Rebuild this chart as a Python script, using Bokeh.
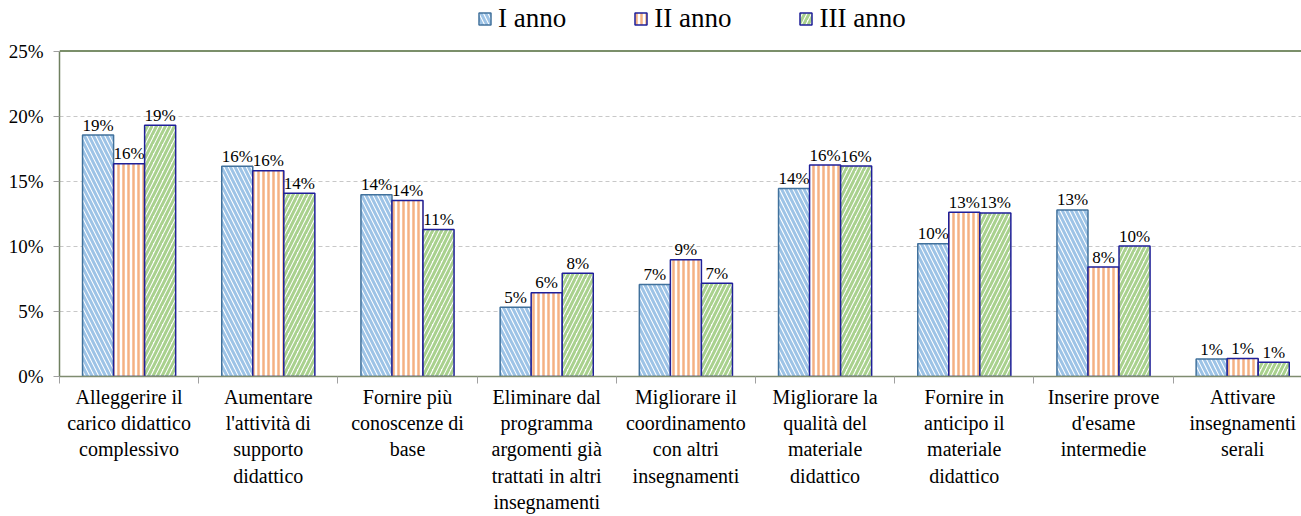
from bokeh.plotting import figure
from bokeh.models import (ColumnDataSource, Range1d, FixedTicker, Legend, LegendItem,
                          Span, PrintfTickFormatter)
from bokeh.transform import dodge
from bokeh.core.properties import value
from bokeh.embed import file_html
from bokeh.resources import INLINE

# ---- data -------------------------------------------------------------
categories = [
    "Alleggerire il\ncarico didattico\ncomplessivo",
    "Aumentare\nl'attività di\nsupporto\ndidattico",
    "Fornire più\nconoscenze di\nbase",
    "Eliminare dal\nprogramma\nargomenti già\ntrattati in altri\ninsegnamenti",
    "Migliorare il\ncoordinamento\ncon altri\ninsegnamenti",
    "Migliorare la\nqualità del\nmateriale\ndidattico",
    "Fornire in\nanticipo il\nmateriale\ndidattico",
    "Inserire prove\nd'esame\nintermedie",
    "Attivare\ninsegnamenti\nserali",
]
i_anno = [18.54, 16.15, 13.96, 5.32, 7.07, 14.44, 10.20, 12.79, 1.34]
ii_anno = [16.34, 15.80, 13.52, 6.43, 8.97, 16.24, 12.61, 8.41, 1.39]
iii_anno = [19.30, 14.08, 11.30, 7.93, 7.17, 16.16, 12.56, 10.02, 1.09]
series = ["I anno", "II anno", "III anno"]
y_ticks = [0, 5, 10, 15, 20, 25]

FONT = "Times New Roman"

x = [k + 0.5 for k in range(len(categories))]
src = ColumnDataSource(dict(
    x=x, i=i_anno, ii=ii_anno, iii=iii_anno,
    i_lbl=[f"{round(v)}%" for v in i_anno],
    ii_lbl=[f"{round(v)}%" for v in ii_anno],
    iii_lbl=[f"{round(v)}%" for v in iii_anno],
))

W, H = 1301, 516
LEFT, BOTTOM = 59, 380
# the frame reaches the top of the canvas; the 25% line sits 51 px below it
p = figure(width=W, height=H, x_range=Range1d(0, (W - LEFT) / 139.2),
           y_range=Range1d(0, 28.88), output_backend="svg", toolbar_location=None,
           min_border_left=LEFT, min_border_right=0, min_border_top=0,
           min_border_bottom=H - BOTTOM)
p.outline_line_color = None
p.background_fill_color = "white"
p.border_fill_color = "white"
p.xgrid.visible = False

bw = 0.223
styles = [
    dict(col="i", off=-bw, hatch="\\", hcol="#9dc3e6", lcol="#41719c", scale=9, weight=3),
    dict(col="ii", off=0.0, hatch="|", hcol="#f4b183", lcol="#1f1f99", scale=5, weight=2.5),
    dict(col="iii", off=bw, hatch="/", hcol="#a9d18e", lcol="#1f1f99", scale=9, weight=3),
]
renderers = []
for s in styles:
    r = p.vbar(x=dodge("x", s["off"], range=p.x_range), top=s["col"], width=bw, source=src,
               fill_color="white", hatch_pattern=s["hatch"], hatch_color=s["hcol"],
               hatch_scale=s["scale"], hatch_weight=s["weight"],
               line_color=s["lcol"], line_width=1.5)
    renderers.append(r)
    p.text(x=dodge("x", s["off"], range=p.x_range), y=s["col"], text=s["col"] + "_lbl",
           source=src, text_align="center", text_baseline="alphabetic", y_offset=-10,
           text_font=value(FONT), text_font_size="17px", text_color="black")

# top border line of the plot area
p.add_layout(Span(location=25, dimension="width", line_color="#4f6a38", line_width=1.5))

p.yaxis.bounds = (0, 25)
p.yaxis.ticker = FixedTicker(ticks=y_ticks, minor_ticks=[])
p.yaxis.formatter = PrintfTickFormatter(format="%d%%")
p.yaxis.major_label_text_font = FONT
p.yaxis.major_label_text_font_size = "19px"
p.yaxis.major_label_text_color = "black"
p.yaxis.major_tick_out = 6
p.yaxis.major_tick_in = 0
p.yaxis.major_tick_line_color = "#a0a0a0"
p.yaxis.axis_line_color = "#6f8060"
p.yaxis.axis_line_width = 1.5
p.yaxis.major_label_standoff = 10

p.ygrid.ticker = FixedTicker(ticks=y_ticks[1:-1])
p.ygrid.grid_line_color = "#c8c8c8"
p.ygrid.grid_line_dash = "4 3"

p.xaxis.ticker = FixedTicker(ticks=x, minor_ticks=list(range(len(categories) + 1)))
p.xaxis.major_label_overrides = {xx: c for xx, c in zip(x, categories)}
p.xaxis.major_label_text_font = FONT
p.xaxis.major_label_text_font_size = "20px"
p.xaxis.major_label_text_line_height = 1.2
p.xaxis.major_label_text_color = "black"
p.xaxis.major_label_standoff = 2
p.xaxis.major_tick_out = 0
p.xaxis.major_tick_in = 0
p.xaxis.minor_tick_out = 7
p.xaxis.minor_tick_in = 0
p.xaxis.minor_tick_line_color = "#a0a0a0"
p.xaxis.axis_line_color = "#7f8c70"
p.xaxis.axis_line_width = 1.5

legend = Legend(items=[LegendItem(label=s, renderers=[r]) for s, r in zip(series, renderers)],
                orientation="horizontal", location=(418, 342),
                label_text_font=FONT, label_text_font_size="27px",
                label_text_color="black",
                glyph_width=15, glyph_height=15, label_standoff=6, spacing=67,
                padding=0, margin=0, border_line_color=None, background_fill_alpha=0)
p.add_layout(legend)

open("out.html", "w").write(file_html(p, INLINE))
